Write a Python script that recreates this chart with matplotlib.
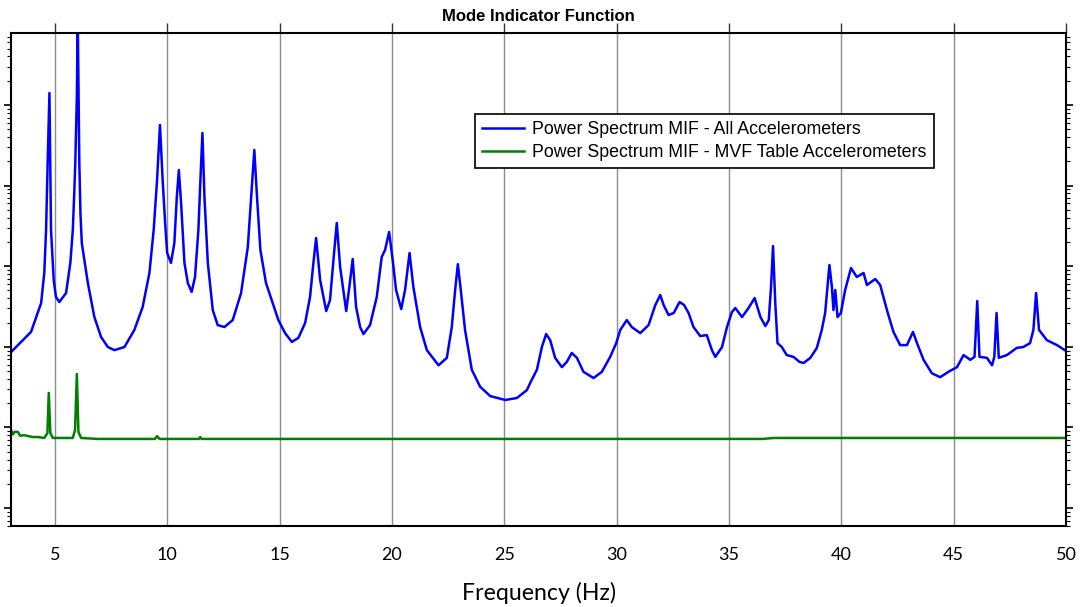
import numpy as np
import matplotlib
matplotlib.use('Agg')
from matplotlib import pyplot as plt
from matplotlib.ticker import LogLocator, NullFormatter, MultipleLocator

# blue: power spectrum MIF, all accelerometers (arbitrary power units)
freq_all = [3.04, 3.93, 4.38, 4.52, 4.60, 4.67, 4.75, 4.82, 4.94, 5.04, 5.19, 5.49, 5.68, 5.79,
            5.86, 5.90, 5.97, 6.01, 6.08, 6.13, 6.19, 6.46, 6.75, 7.05, 7.35, 7.64, 8.09, 8.53,
            8.90, 9.20, 9.39, 9.54, 9.67, 9.79, 9.90, 9.99, 10.16, 10.31, 10.42, 10.51, 10.61,
            10.76, 10.91, 11.08, 11.23, 11.38, 11.47, 11.56, 11.65, 11.80, 12.02, 12.24, 12.54,
            12.91, 13.28, 13.58, 13.73, 13.87, 13.99, 14.14, 14.39, 14.69, 14.94, 15.24, 15.54,
            15.83, 16.13, 16.35, 16.50, 16.62, 16.80, 17.07, 17.24, 17.42, 17.54, 17.69, 17.96,
            18.10, 18.25, 18.40, 18.58, 18.73, 19.02, 19.32, 19.54, 19.69, 19.87, 20.03, 20.18,
            20.41, 20.58, 20.78, 20.95, 21.25, 21.55, 22.07, 22.44, 22.66, 22.81, 22.93, 23.06,
            23.25, 23.55, 23.92, 24.37, 25.04, 25.56, 26.00, 26.20, 26.45, 26.67, 26.86, 27.04,
            27.26, 27.56, 27.78, 28.00, 28.23, 28.52, 28.97, 29.34, 29.71, 29.98, 30.16, 30.45,
            30.67, 31.05, 31.42, 31.72, 31.94, 32.09, 32.31, 32.54, 32.80, 33.00, 33.20, 33.42,
            33.72, 34.01, 34.24, 34.39, 34.69, 34.91, 35.13, 35.28, 35.58, 35.87, 36.14, 36.40,
            36.62, 36.77, 36.87, 36.96, 37.06, 37.16, 37.35, 37.57, 37.87, 38.14, 38.32, 38.62,
            38.91, 39.13, 39.28, 39.47, 39.58, 39.65, 39.73, 39.83, 39.98, 40.17, 40.43, 40.69,
            40.99, 41.14, 41.51, 41.73, 42.03, 42.32, 42.62, 42.92, 43.19, 43.37, 43.66, 44.03,
            44.40, 44.77, 45.15, 45.44, 45.74, 45.93, 46.05, 46.15, 46.48, 46.71, 46.81, 46.91,
            47.01, 47.37, 47.81, 48.10, 48.40, 48.55, 48.67, 48.80, 49.15, 49.60, 50.00]
mif_all = [86, 153, 349, 824, 2810, 19100, 141000, 2810, 674, 415, 360, 465, 1100, 2810,
           8810, 19100, 126000, 1.2e6, 19100, 4570, 1940, 619, 234, 132, 99.5, 91, 99.5, 162,
           312, 824, 2810, 11700, 56500, 11700, 3440, 1460, 1100, 1940, 7220, 15600, 6080,
           1100, 619, 479, 735, 2810, 11700, 45000, 7220, 1100, 286, 186, 176,
           215, 465, 1730, 7220, 27700, 7220, 1590, 619, 349, 215, 148, 115,
           129, 197, 415, 1100, 2240, 674, 278, 381, 1460, 3440, 977, 278,
           552, 1230, 312, 176, 144, 186, 415, 1300, 1590, 2660, 1190, 507,
           294, 507, 1460, 552, 176, 91, 59, 73, 176, 507, 1060, 507,
           162, 52, 32, 24.5, 21.9, 23.2, 29, 38, 52, 99.5, 144, 121,
           73, 56, 65, 84, 73, 49, 41, 49, 75, 111, 162, 215,
           176, 148, 186, 330, 439, 330, 248, 263, 360, 330, 263, 176,
           136, 140, 91, 75, 99.5, 176, 270, 303, 234, 303, 403, 234,
           181, 215, 552, 1780, 349, 111, 99.5, 79, 75, 65, 63, 73,
           97, 162, 263, 1035, 552, 286, 507, 234, 263, 507, 950, 735,
           824, 585, 694, 585, 286, 153, 105, 105, 153, 111, 69, 47,
           42, 49, 56, 79, 69, 75, 370, 75, 73, 59, 75, 263,
           73, 79, 97, 99.5, 111, 162, 465, 162, 121, 105, 89]

# green: power spectrum MIF, MVF table accelerometers
freq_mvf = [3.04, 3.12, 3.20, 3.34, 3.45, 3.63, 4.00, 4.23, 4.52, 4.66, 4.72, 4.79, 4.90,
            5.79, 5.89, 5.97, 6.04, 6.16, 6.90, 9.45, 9.54, 9.65, 11.40, 11.46, 11.52,
            36.5, 37.0, 50.0]
mif_mvf = [9.3, 8.2, 8.8, 8.8, 7.9, 8.0, 7.6, 7.6, 7.4, 8.5, 26.8, 8.5, 7.4,
           7.4, 9.3, 46, 8.8, 7.4, 7.2, 7.2, 7.8, 7.2, 7.2, 7.6, 7.2,
           7.2, 7.4, 7.4]

fig = plt.figure(figsize=(10.81, 6.07), dpi=100)
ax = fig.add_axes([0.0102, 0.1334, 0.9759, 0.8122])

ax.plot(freq_all, mif_all, color='#0000FF', lw=1.8,
        label='Power Spectrum MIF - All Accelerometers')
ax.plot(freq_mvf, mif_mvf, color='#008000', lw=1.8,
        label='Power Spectrum MIF - MVF Table Accelerometers')

ax.set_yscale('log')
ax.set_xlim(3.04, 50)
ax.set_ylim(0.598, 7.82e5)

ax.xaxis.set_major_locator(MultipleLocator(5))
ax.grid(axis='x', color='#8c8c8c', lw=1)
ax.grid(axis='y', visible=False)

ax.yaxis.set_major_locator(LogLocator(base=10, numticks=20))
ax.yaxis.set_minor_locator(LogLocator(base=10, subs=np.arange(2, 10), numticks=20))
ax.yaxis.set_major_formatter(NullFormatter())
ax.yaxis.set_minor_formatter(NullFormatter())
ax.tick_params(axis='y', which='major', direction='out', length=5, width=1.2,
               left=True, right=True, color='black')
ax.tick_params(axis='y', which='minor', direction='out', length=3, width=0.8,
               left=True, right=True, color='black')
ax.tick_params(axis='x', which='major', direction='out', length=7, width=1,
               top=True, bottom=False, color='#333333', labelsize=13, pad=8)
for lab in ax.get_xticklabels():
    lab.set_fontfamily('Lato')

for sp in ax.spines.values():
    sp.set_linewidth(1.5)
    sp.set_color('black')

ax.set_title('Mode Indicator Function', fontsize=12, fontweight='bold',
             family='Liberation Sans', pad=9)
ax.set_xlabel('Frequency (Hz)', fontsize=16.7, family='Lato', labelpad=14)

leg = ax.legend(loc='upper left', bbox_to_anchor=(0.4395, 0.8365),
                prop={'family': 'Liberation Sans', 'size': 12.8},
                frameon=True, fancybox=False, handlelength=2.4, borderpad=0.4,
                labelspacing=0.35, handletextpad=0.45, borderaxespad=0)
leg.get_frame().set_edgecolor('black')
leg.get_frame().set_linewidth(1.2)
leg.get_frame().set_alpha(1)

fig.savefig('out.png', dpi=100)
